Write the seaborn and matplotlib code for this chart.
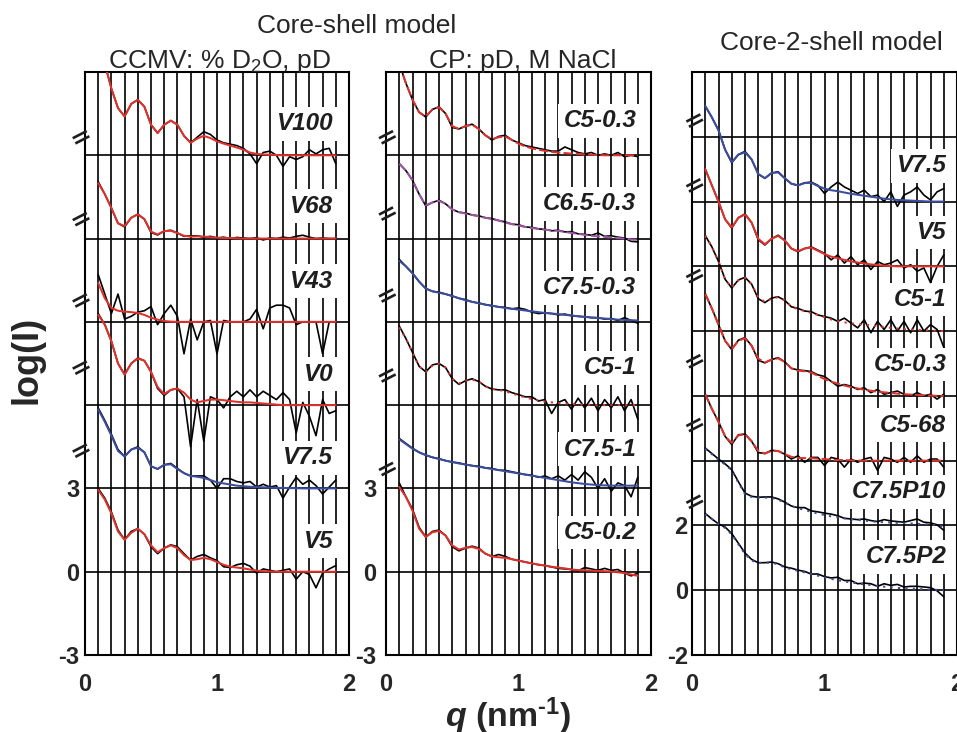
import numpy as np
import pandas as pd
import matplotlib
matplotlib.use("Agg")
import matplotlib.pyplot as plt
from matplotlib.lines import Line2D
from matplotlib.transforms import IdentityTransform
import seaborn as sns

# Scattering vector grid (nm^-1) shared by every curve
Q = [0.10, 0.15, 0.20, 0.25, 0.30, 0.35, 0.40, 0.45, 0.50, 0.55,
     0.60, 0.65, 0.70, 0.75, 0.80, 0.85, 0.90, 0.95, 1.00, 1.05,
     1.10, 1.15, 1.20, 1.25, 1.30, 1.35, 1.40, 1.45, 1.50, 1.55,
     1.60, 1.65, 1.70, 1.75, 1.80, 1.85, 1.90]

# ---- CCMV: % D2O, pD (core-shell fits); log(I) relative to each trace's baseline
V100_DATA = [4.8, 3.3, 2.4, 1.7, 1.4, 1.85, 2.0, 1.75, 1.1, 0.8, 1.1, 1.25, 1.1, 0.7, 0.45, 0.65, 0.85, 0.75, 0.55, 0.45,
             0.4, 0.35, 0.25, 0.05, -0.3, 0.1, 0.15, 0.0, -0.4, -0.05, -0.15, -0.05, 0.2, 0.05, 0.2, 0.25, -0.3]
V100_FIT = [4.8, 3.3, 2.4, 1.7, 1.4, 1.85, 2.0, 1.75, 1.1, 0.8, 1.1, 1.25, 1.1, 0.7, 0.45, 0.6, 0.7, 0.62, 0.5, 0.42,
            0.35, 0.28, 0.2, 0.1, 0.05, 0.03, 0.02, 0.01, 0.0, 0.0, 0.0, 0.0, 0.0, 0.0, 0.0, 0.0, 0.0]
V68_DATA = [2.05, 1.6, 1.1, 0.55, 0.42, 0.75, 0.88, 0.7, 0.22, 0.13, 0.27, 0.3, 0.2, 0.08, 0.1, 0.1, 0.05, 0.08, 0.02, 0.05,
            0.0, 0.04, 0.02, 0.0, 0.03, -0.05, 0.02, 0.0, 0.05, 0.02, 0.08, 0.12, 0.05, 0.0, 0.02, 0.0, 0.0]
V68_FIT = [2.0, 1.6, 1.1, 0.55, 0.45, 0.75, 0.87, 0.7, 0.25, 0.15, 0.27, 0.28, 0.2, 0.1, 0.07, 0.08, 0.07, 0.05, 0.03, 0.02,
           0.02, 0.01, 0.0, 0.0, 0.0, 0.0, 0.0, 0.0, 0.0, 0.0, 0.0, 0.0, 0.0, 0.0, 0.0, 0.0, 0.0]
V43_DATA = [1.7, 1.0, 0.3, 1.0, 0.1, 0.2, 0.35, 0.4, 0.55, -0.1, 0.3, 0.6, 0.2, -1.15, 0.1, -0.65, 0.0, 0.05, -1.15, 0.05,
            0.0, 0.0, 0.0, 0.1, 0.45, -0.25, 0.5, 0.6, 0.6, 0.5, -0.1, 0.0, 0.0, 0.0, -1.15, 0.0, 0.0]
V43_FIT = [1.4, 0.85, 0.5, 0.4, 0.37, 0.35, 0.32, 0.25, 0.15, 0.08, 0.03, 0.01, 0.0, 0.0, 0.0, 0.0, 0.0, 0.0, 0.0, 0.0,
           0.0, 0.0, 0.0, 0.0, 0.0, 0.0, 0.0, 0.0, 0.0, 0.0, 0.0, 0.0, 0.0, 0.0, 0.0, 0.0, 0.0]
V0_DATA = [3.3, 2.9, 2.3, 1.5, 1.1, 1.5, 1.7, 1.6, 1.2, 0.6, 0.35, 0.55, 0.6, 0.3, -1.5, 0.2, -1.3, 0.3, 0.2, -0.1,
           0.3, 0.5, 0.3, 0.55, 0.3, 0.5, 0.35, 0.2, 0.45, 0.2, -1.0, 0.1, -0.4, -1.1, 0.2, -0.3, -0.2]
V0_FIT = [3.25, 2.9, 2.3, 1.5, 1.1, 1.5, 1.68, 1.6, 1.2, 0.65, 0.4, 0.55, 0.6, 0.45, 0.2, 0.1, 0.15, 0.2, 0.2, 0.18,
          0.15, 0.12, 0.1, 0.1, 0.08, 0.06, 0.04, 0.02, 0.0, 0.0, 0.0, 0.0, 0.0, 0.0, 0.0, 0.0, 0.0]
V75_DATA = [2.9, 2.45, 1.95, 1.4, 1.15, 1.4, 1.5, 1.3, 0.8, 0.7, 0.85, 0.9, 0.72, 0.55, 0.45, 0.45, 0.45, 0.3, 0.0, 0.35,
            0.35, 0.25, 0.2, 0.25, 0.05, 0.15, 0.05, 0.1, -0.35, 0.05, 0.4, 0.15, 0.3, 0.1, -0.2, 0.05, 0.3]
V75_FIT = [2.85, 2.4, 1.9, 1.35, 1.15, 1.4, 1.47, 1.3, 0.8, 0.7, 0.85, 0.87, 0.7, 0.55, 0.45, 0.42, 0.38, 0.3, 0.22, 0.18,
           0.14, 0.1, 0.08, 0.06, 0.05, 0.04, 0.03, 0.02, 0.02, 0.01, 0.01, 0.0, 0.0, 0.0, 0.0, 0.0, 0.0]
V5_DATA = [3.0, 2.65, 2.15, 1.5, 1.15, 1.45, 1.55, 1.35, 0.9, 0.65, 0.85, 0.97, 0.9, 0.65, 0.42, 0.55, 0.62, 0.5, 0.4, 0.18,
           0.15, 0.25, 0.3, 0.2, -0.05, 0.1, 0.05, 0.0, 0.05, 0.1, -0.27, 0.0, -0.1, -0.58, -0.05, 0.1, 0.22]
V5_FIT = [2.95, 2.6, 2.1, 1.45, 1.15, 1.4, 1.55, 1.35, 0.95, 0.7, 0.85, 0.95, 0.85, 0.6, 0.42, 0.45, 0.5, 0.45, 0.35, 0.25,
          0.18, 0.15, 0.12, 0.08, 0.04, 0.02, 0.01, 0.0, 0.0, 0.0, 0.0, 0.0, 0.0, 0.0, 0.0, 0.0, 0.0]

# ---- CP: pD, M NaCl (core-shell fits)
C5_03_DATA = [3.3, 2.6, 2.0, 1.55, 1.38, 1.65, 1.75, 1.5, 1.0, 0.95, 1.05, 1.12, 0.95, 0.72, 0.55, 0.68, 0.72, 0.55, 0.45, 0.35,
              0.3, 0.25, 0.2, 0.15, 0.15, 0.3, 0.2, 0.1, 0.05, 0.1, 0.0, 0.05, 0.0, 0.1, -0.05, 0.0, -0.05]
C5_03_FIT = [3.3, 2.6, 2.0, 1.55, 1.4, 1.65, 1.73, 1.5, 1.05, 0.95, 1.05, 1.1, 0.95, 0.72, 0.58, 0.65, 0.68, 0.55, 0.42, 0.32,
             0.25, 0.2, 0.16, 0.12, 0.1, 0.08, 0.06, 0.05, 0.03, 0.02, 0.01, 0.0, 0.0, 0.0, 0.0, 0.0, 0.0]
C65_03_DATA = [2.7, 2.45, 2.1, 1.6, 1.18, 1.3, 1.38, 1.25, 1.05, 0.95, 0.92, 0.85, 0.82, 0.75, 0.72, 0.65, 0.6, 0.52, 0.5, 0.42,
               0.4, 0.35, 0.33, 0.28, 0.3, 0.24, 0.25, 0.17, 0.15, 0.12, 0.2, 0.08, 0.1, 0.05, 0.02, -0.1, -0.12]
C65_03_FIT = [2.7, 2.45, 2.1, 1.6, 1.2, 1.3, 1.36, 1.25, 1.05, 0.95, 0.9, 0.85, 0.8, 0.75, 0.7, 0.65, 0.58, 0.52, 0.47, 0.42,
              0.38, 0.35, 0.32, 0.3, 0.28, 0.24, 0.2, 0.17, 0.13, 0.1, 0.08, 0.06, 0.04, 0.02, 0.0, -0.03, -0.05]
C75_03_DATA = [2.25, 2.0, 1.75, 1.45, 1.2, 1.1, 1.07, 1.0, 0.93, 0.85, 0.8, 0.72, 0.68, 0.62, 0.58, 0.54, 0.52, 0.47, 0.5, 0.45,
               0.35, 0.3, 0.32, 0.3, 0.25, 0.28, 0.22, 0.2, 0.18, 0.15, 0.15, 0.1, 0.12, 0.05, 0.15, 0.05, -0.05]
C75_03_FIT = [2.2, 2.0, 1.75, 1.45, 1.2, 1.1, 1.05, 1.0, 0.93, 0.85, 0.78, 0.72, 0.67, 0.62, 0.58, 0.54, 0.5, 0.47, 0.44, 0.41,
              0.38, 0.35, 0.32, 0.3, 0.28, 0.25, 0.23, 0.2, 0.18, 0.16, 0.14, 0.12, 0.1, 0.08, 0.07, 0.06, 0.05]
C5_1_DATA = [2.85, 2.4, 1.9, 1.4, 1.2, 1.45, 1.5, 1.35, 0.95, 0.75, 0.88, 0.95, 0.85, 0.68, 0.58, 0.55, 0.55, 0.45, 0.38, 0.3,
             0.3, 0.15, 0.2, -0.3, 0.1, 0.2, -0.15, 0.25, -0.1, 0.25, -0.2, 0.2, -0.1, 0.3, -0.2, 0.2, -0.5]
C5_1_FIT = [2.8, 2.4, 1.9, 1.4, 1.2, 1.42, 1.5, 1.35, 0.95, 0.78, 0.88, 0.92, 0.85, 0.68, 0.58, 0.55, 0.5, 0.42, 0.35, 0.28,
            0.22, 0.17, 0.13, 0.1, 0.08, 0.06, 0.04, 0.03, 0.02, 0.01, 0.0, 0.0, 0.0, 0.0, 0.0, 0.0, 0.0]
C75_1_DATA = [1.8, 1.62, 1.45, 1.3, 1.2, 1.12, 1.07, 1.0, 0.95, 0.92, 0.86, 0.82, 0.8, 0.74, 0.72, 0.66, 0.65, 0.6, 0.55, 0.5,
              0.48, 0.4, 0.45, 0.35, 0.45, 0.3, 0.5, 0.3, 0.6, 0.4, 0.0, 0.35, -0.1, 0.2, 0.1, -0.3, 0.4]
C75_1_FIT = [1.77, 1.6, 1.43, 1.3, 1.2, 1.12, 1.06, 1.0, 0.95, 0.9, 0.86, 0.82, 0.78, 0.74, 0.7, 0.66, 0.62, 0.58, 0.54, 0.5,
             0.46, 0.42, 0.38, 0.34, 0.3, 0.26, 0.22, 0.19, 0.16, 0.14, 0.12, 0.11, 0.1, 0.1, 0.1, 0.1, 0.1]
C5_02_DATA = [3.2, 2.7, 2.25, 1.6, 1.25, 1.45, 1.5, 1.3, 0.9, 0.75, 0.85, 0.92, 0.85, 0.65, 0.55, 0.62, 0.55, 0.45, 0.4, 0.35,
              0.3, 0.25, 0.22, 0.17, 0.12, 0.1, 0.08, 0.03, 0.15, 0.1, 0.05, 0.12, 0.05, 0.08, -0.05, -0.15, -0.05]
C5_02_FIT = [3.05, 2.7, 2.2, 1.55, 1.25, 1.42, 1.47, 1.3, 0.95, 0.8, 0.86, 0.89, 0.82, 0.65, 0.55, 0.52, 0.5, 0.45, 0.4, 0.35,
             0.3, 0.26, 0.22, 0.18, 0.15, 0.12, 0.08, 0.06, 0.05, 0.04, 0.03, 0.02, 0.0, -0.02, -0.05, -0.1, -0.15]

# ---- Core-2-shell fits
S_V75_DATA = [2.95, 2.6, 2.2, 1.6, 1.2, 1.45, 1.55, 1.3, 0.85, 0.72, 0.88, 0.92, 0.72, 0.55, 0.5, 0.58, 0.6, 0.5, 0.25, 0.45,
              0.6, 0.45, 0.35, 0.25, 0.35, 0.15, 0.2, 0.0, 0.3, -0.15, 0.2, 0.3, 0.45, 0.2, 0.05, 0.3, 0.4]
S_V75_FIT = [2.95, 2.6, 2.2, 1.6, 1.22, 1.45, 1.52, 1.3, 0.85, 0.72, 0.88, 0.9, 0.72, 0.55, 0.5, 0.57, 0.58, 0.48, 0.4, 0.35,
             0.32, 0.28, 0.24, 0.21, 0.18, 0.15, 0.12, 0.09, 0.07, 0.05, 0.04, 0.03, 0.02, 0.01, 0.0, 0.0, 0.0]
S_V5_DATA = [3.0, 2.5, 2.0, 1.45, 1.18, 1.5, 1.62, 1.35, 0.82, 0.66, 0.85, 0.96, 0.8, 0.55, 0.45, 0.55, 0.6, 0.5, 0.4, 0.2,
             0.35, 0.1, 0.3, 0.05, 0.2, -0.1, 0.15, 0.05, 0.1, 0.2, -0.05, 0.05, -0.15, -0.05, -0.5, 0.0, 0.35]
S_V5_FIT = [3.0, 2.5, 2.0, 1.45, 1.2, 1.5, 1.6, 1.35, 0.85, 0.68, 0.85, 0.94, 0.8, 0.55, 0.47, 0.55, 0.58, 0.48, 0.38, 0.3,
            0.25, 0.2, 0.15, 0.12, 0.09, 0.06, 0.04, 0.02, 0.01, 0.0, 0.0, 0.0, 0.0, 0.0, 0.0, 0.0, 0.0]
S_C5_1_DATA = [2.95, 2.6, 2.15, 1.6, 1.33, 1.58, 1.66, 1.45, 1.0, 0.88, 1.02, 1.06, 0.95, 0.75, 0.7, 0.62, 0.6, 0.5, 0.45, 0.4,
               0.3, 0.4, 0.25, 0.1, 0.35, -0.05, 0.3, 0.05, 0.35, 0.0, 0.3, -0.05, 0.35, 0.0, 0.2, 0.05, -0.5]
S_C5_1_FIT = [2.95, 2.6, 2.15, 1.6, 1.35, 1.57, 1.65, 1.45, 1.05, 0.9, 1.0, 1.05, 0.95, 0.75, 0.68, 0.62, 0.56, 0.5, 0.43, 0.36,
              0.31, 0.27, 0.24, 0.22, 0.2, 0.18, 0.15, 0.13, 0.1, 0.08, 0.06, 0.05, 0.04, 0.03, 0.02, 0.01, 0.0]
S_C5_03_DATA = [3.15, 2.7, 2.2, 1.7, 1.43, 1.72, 1.8, 1.55, 1.1, 1.02, 1.12, 1.18, 1.05, 0.85, 0.8, 0.78, 0.75, 0.65, 0.6, 0.45,
                0.3, 0.35, 0.3, 0.2, 0.25, 0.1, 0.2, 0.05, 0.1, 0.15, 0.05, 0.0, 0.1, 0.0, 0.05, -0.1, 0.05]
S_C5_03_FIT = [3.15, 2.7, 2.2, 1.7, 1.45, 1.7, 1.78, 1.55, 1.15, 1.03, 1.12, 1.16, 1.05, 0.85, 0.78, 0.76, 0.72, 0.62, 0.52, 0.44,
               0.38, 0.32, 0.27, 0.23, 0.19, 0.16, 0.13, 0.11, 0.09, 0.07, 0.05, 0.04, 0.03, 0.02, 0.01, 0.0, 0.0]
S_C5_68_DATA = [2.05, 1.6, 1.2, 0.75, 0.5, 0.8, 0.82, 0.6, 0.25, 0.22, 0.32, 0.3, 0.2, 0.05, 0.15, -0.05, 0.1, 0.1, -0.15, 0.1,
                0.05, -0.2, 0.05, -0.05, 0.05, 0.1, -0.3, 0.1, 0.05, -0.05, 0.1, -0.05, 0.15, -0.05, 0.05, 0.05, -0.2]
S_C5_68_FIT = [2.05, 1.6, 1.2, 0.75, 0.55, 0.78, 0.82, 0.6, 0.3, 0.22, 0.3, 0.3, 0.2, 0.12, 0.08, 0.08, 0.08, 0.06, 0.05, 0.03,
               0.02, 0.02, 0.01, 0.0, 0.0, 0.0, 0.0, 0.0, 0.0, 0.0, 0.0, 0.0, 0.0, 0.0, 0.0, 0.0, 0.0]
S_P10_DATA = [2.39, 2.22, 2.05, 1.9, 1.72, 1.35, 1.0, 0.9, 0.87, 0.88, 0.88, 0.82, 0.72, 0.6, 0.55, 0.55, 0.45, 0.42, 0.38, 0.35,
              0.3, 0.22, 0.2, 0.18, 0.2, 0.15, 0.12, 0.18, 0.14, 0.12, 0.1, 0.15, 0.2, 0.1, 0.08, 0.02, -0.15]
S_P10_FIT = [2.37, 2.2, 2.03, 1.88, 1.7, 1.32, 0.97, 0.88, 0.86, 0.86, 0.85, 0.8, 0.7, 0.6, 0.53, 0.48, 0.42, 0.37, 0.32, 0.28,
             0.25, 0.22, 0.19, 0.17, 0.15, 0.13, 0.11, 0.1, 0.09, 0.08, 0.07, 0.06, 0.05, 0.04, 0.03, 0.0, -0.05]
S_P2_DATA = [2.37, 2.2, 2.05, 1.95, 1.75, 1.45, 1.15, 0.95, 0.85, 0.85, 0.87, 0.82, 0.72, 0.68, 0.62, 0.58, 0.5, 0.5, 0.42, 0.38,
             0.4, 0.3, 0.3, 0.2, 0.22, 0.2, 0.12, 0.2, 0.15, 0.18, 0.1, 0.12, 0.12, 0.1, 0.08, -0.02, -0.2]
S_P2_FIT = [2.35, 2.2, 2.05, 1.92, 1.72, 1.42, 1.12, 0.92, 0.84, 0.85, 0.85, 0.8, 0.7, 0.65, 0.6, 0.55, 0.5, 0.45, 0.4, 0.35,
            0.31, 0.27, 0.24, 0.21, 0.18, 0.16, 0.13, 0.11, 0.09, 0.07, 0.06, 0.05, 0.04, 0.03, 0.02, 0.01, 0.0]

RED = "#e0322d"
BLUE = "#3b4d9e"
PURPLE = "#9c55a2"
INK = "#1e1e1e"
SOLID = "-"
DASHED = (0, (4.5, 1.6))
DOTTED = (0, (1.1, 2.6))

W, H = 957, 732

def rect(x0, x1, y_top, y_bot):
    return [x0 / W, (H - y_bot) / H, (x1 - x0) / W, (y_bot - y_top) / H]

panels = [
    dict(rect=rect(85, 349, 72, 655), ylim=(-3, 18), ymajor=[-3, 0, 3], yminor=[6, 9, 12, 15],
         label_x=1.88, break_x=-0.03, ypad=4,
         breaks=[15.65, 12.7, 9.77, 7.35, 4.36],
         series=[("V100", 15, V100_DATA, V100_FIT, RED, SOLID, 16.13),
                 ("V68", 12, V68_DATA, V68_FIT, RED, SOLID, 13.17),
                 ("V43", 9, V43_DATA, V43_FIT, RED, SOLID, 10.47),
                 ("V0", 6, V0_DATA, V0_FIT, RED, SOLID, 7.12),
                 ("V7.5", 3, V75_DATA, V75_FIT, BLUE, SOLID, 4.1),
                 ("V5", 0, V5_DATA, V5_FIT, RED, SOLID, 1.1)]),
    dict(rect=rect(386, 651, 72, 655), ylim=(-3, 18), ymajor=[-3, 0, 3], yminor=[6, 9, 12, 15],
         label_x=1.89, break_x=0.01, ypad=7,
         breaks=[15.65, 12.9, 9.95, 7.07, 3.7],
         series=[("C5-0.3", 15, C5_03_DATA, C5_03_FIT, RED, DASHED, 16.24),
                 ("C6.5-0.3", 12, C65_03_DATA, C65_03_FIT, PURPLE, DASHED, 13.25),
                 ("C7.5-0.3", 9, C75_03_DATA, C75_03_FIT, BLUE, SOLID, 10.23),
                 ("C5-1", 6, C5_1_DATA, C5_1_FIT, RED, DOTTED, 7.35),
                 ("C7.5-1", 3, C75_1_DATA, C75_1_FIT, BLUE, SOLID, 4.41),
                 ("C5-0.2", 0, C5_02_DATA, C5_02_FIT, RED, SOLID, 1.41)]),
    dict(rect=rect(692, 957, 72, 655), ylim=(-2, 16), ymajor=[-2, 0, 2], yminor=[4, 6, 8, 10, 12, 14],
         label_x=1.92, break_x=0.02, ypad=3,
         breaks=[14.5, 12.5, 9.7, 7.07, 5.1, 2.73],
         series=[("V7.5", 12, S_V75_DATA, S_V75_FIT, BLUE, SOLID, 13.1),
                 ("V5", 10, S_V5_DATA, S_V5_FIT, RED, SOLID, 11.04),
                 ("C5-1", 8, S_C5_1_DATA, S_C5_1_FIT, RED, DOTTED, 8.98),
                 ("C5-0.3", 6, S_C5_03_DATA, S_C5_03_FIT, RED, DASHED, 6.97),
                 ("C5-68", 4, S_C5_68_DATA, S_C5_68_FIT, RED, DASHED, 5.1),
                 ("C7.5P10", 2, S_P10_DATA, S_P10_FIT, BLUE, DOTTED, 3.04),
                 ("C7.5P2", 0, S_P2_DATA, S_P2_FIT, BLUE, DOTTED, 1.03)]),
]

sns.set_style("white")
plt.rcParams["font.family"] = ["Liberation Sans", "DejaVu Sans"]
plt.rcParams["mathtext.fontset"] = "custom"
plt.rcParams["mathtext.rm"] = "Liberation Sans"
plt.rcParams["mathtext.it"] = "Liberation Sans:italic"
plt.rcParams["mathtext.bf"] = "Liberation Sans:bold"
plt.rcParams["mathtext.bfit"] = "Liberation Sans:bold:italic"

fig = plt.figure(figsize=(W / 100, H / 100), dpi=100)
fig.patch.set_facecolor("white")

x_minor = [0.1, 0.2, 0.3, 0.4, 0.5, 0.6, 0.7, 0.8, 0.9,
           1.1, 1.2, 1.3, 1.4, 1.5, 1.6, 1.7, 1.8, 1.9]


def axis_break(ax, x, y):
    """Two short slanted strokes marking a broken log(I) axis."""
    cx, cy = ax.transData.transform((x, y))
    dx, dy = 7.0, 3.6      # half-length of a stroke (pixels)
    ox, oy = -1.3, 2.6     # half-separation between the strokes (pixels)
    for s in (-1, 1):
        fig.add_artist(Line2D([cx - dx + s * ox, cx + dx + s * ox],
                              [cy - dy + s * oy, cy + dy + s * oy],
                              transform=IdentityTransform(), color=INK,
                              lw=1.9, solid_capstyle="butt", zorder=6))


for p in panels:
    ax = fig.add_axes(p["rect"])
    for name, offset, data, fit, color, style, label_y in p["series"]:
        df = pd.DataFrame({"q": Q,
                           "measured": np.array(data) + offset,
                           "model": np.array(fit) + offset})
        sns.lineplot(data=df, x="q", y="measured", ax=ax, color="black", lw=1.2,
                     estimator=None, sort=False, zorder=3)
        sns.lineplot(data=df, x="q", y="model", ax=ax, color=color, lw=1.45,
                     linestyle=style, estimator=None, sort=False, zorder=4)
        ax.text(p["label_x"], label_y, name, ha="right", va="center",
                fontsize=17.5, fontweight="bold", fontstyle="italic", color=INK,
                zorder=2, bbox=dict(boxstyle="square,pad=0.22", fc="white", ec="none"))

    ax.set_xlim(0, 2)
    ax.set_ylim(*p["ylim"])
    ax.set_xticks([0, 1, 2])
    ax.set_xticks(x_minor, minor=True)
    ax.set_xticklabels(["0", "1", "2"], fontsize=17, fontweight="bold")
    ax.set_yticks(p["ymajor"])
    ax.set_yticks(p["yminor"], minor=True)
    ax.set_yticklabels([str(v) for v in p["ymajor"]], fontsize=17, fontweight="bold")
    ax.tick_params(which="both", length=0)
    ax.tick_params(axis="x", pad=13)
    ax.tick_params(axis="y", pad=p["ypad"])
    ax.grid(which="both", color="black", lw=1.2)
    ax.set_axisbelow(True)
    for s in ax.spines.values():
        s.set_visible(True)
        s.set_color("black")
        s.set_linewidth(1.5)
    ax.set_xlabel("")
    ax.set_ylabel("")

    for by in p["breaks"]:
        axis_break(ax, p["break_x"], by)

fig.text(357 / W, 1 - 33 / H, "Core-shell model", ha="center", va="baseline", fontsize=19)
fig.text(219 / W, 1 - 68 / H, "CCMV: % D$_2$O, pD", ha="center", va="baseline", fontsize=19)
fig.text(523 / W, 1 - 68 / H, "CP: pD, M NaCl", ha="center", va="baseline", fontsize=19)
fig.text(831 / W, 1 - 50 / H, "Core-2-shell model", ha="center", va="baseline", fontsize=19)
fig.text(27 / W, 1 - 360 / H, "log(I)", rotation=90, ha="center", va="center",
         fontsize=26, fontweight="bold")
fig.text(508 / W, 1 - 727 / H, "$\\mathbfit{q}$ (nm$^{\\mathbf{\u2010}\\mathbf{1}}$)",
         ha="center", va="baseline", fontsize=24.5, fontweight="bold")

fig.savefig("out.png", dpi=100, facecolor="white")
